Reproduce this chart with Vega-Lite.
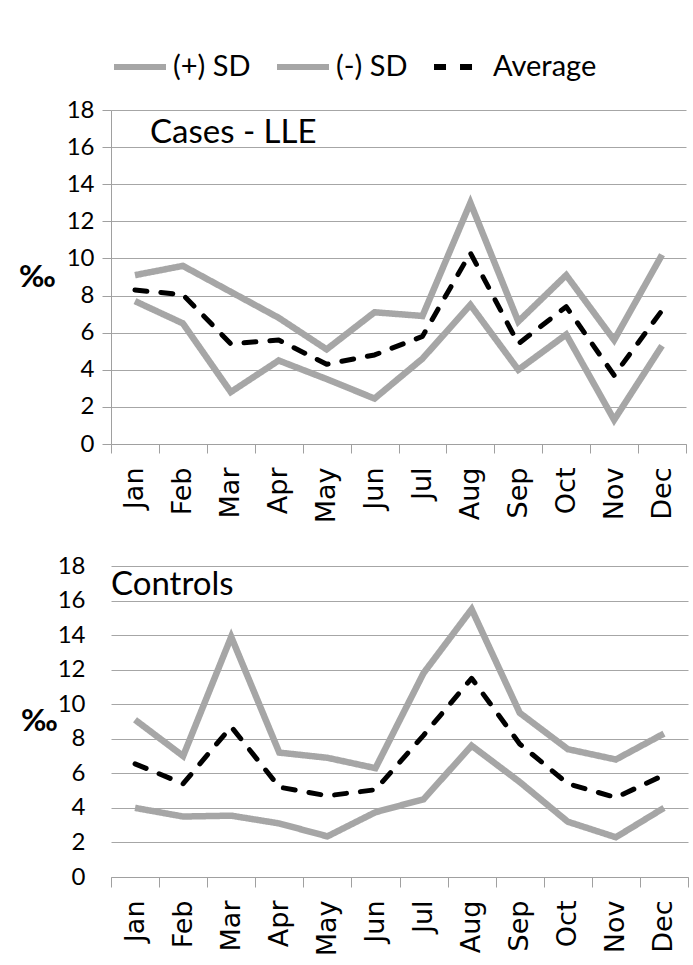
{
  "$schema": "https://vega.github.io/schema/vega-lite/v6.json",
  "padding": {"left": 18, "top": 38, "right": 0, "bottom": 0},
  "background": "white",
  "spacing": 31,
  "datasets": {
    "series": [
      {"panel": "Cases", "series": "(+) SD", "month": "Jan", "value": 9.1},
      {"panel": "Cases", "series": "(+) SD", "month": "Feb", "value": 9.6},
      {"panel": "Cases", "series": "(+) SD", "month": "Mar", "value": 8.2},
      {"panel": "Cases", "series": "(+) SD", "month": "Apr", "value": 6.8},
      {"panel": "Cases", "series": "(+) SD", "month": "May", "value": 5.1},
      {"panel": "Cases", "series": "(+) SD", "month": "Jun", "value": 7.1},
      {"panel": "Cases", "series": "(+) SD", "month": "Jul", "value": 6.9},
      {"panel": "Cases", "series": "(+) SD", "month": "Aug", "value": 13.0},
      {"panel": "Cases", "series": "(+) SD", "month": "Sep", "value": 6.6},
      {"panel": "Cases", "series": "(+) SD", "month": "Oct", "value": 9.1},
      {"panel": "Cases", "series": "(+) SD", "month": "Nov", "value": 5.6},
      {"panel": "Cases", "series": "(+) SD", "month": "Dec", "value": 10.2},
      {"panel": "Cases", "series": "(-) SD", "month": "Jan", "value": 7.7},
      {"panel": "Cases", "series": "(-) SD", "month": "Feb", "value": 6.5},
      {"panel": "Cases", "series": "(-) SD", "month": "Mar", "value": 2.8},
      {"panel": "Cases", "series": "(-) SD", "month": "Apr", "value": 4.5},
      {"panel": "Cases", "series": "(-) SD", "month": "May", "value": 3.5},
      {"panel": "Cases", "series": "(-) SD", "month": "Jun", "value": 2.45},
      {"panel": "Cases", "series": "(-) SD", "month": "Jul", "value": 4.6},
      {"panel": "Cases", "series": "(-) SD", "month": "Aug", "value": 7.5},
      {"panel": "Cases", "series": "(-) SD", "month": "Sep", "value": 4.0},
      {"panel": "Cases", "series": "(-) SD", "month": "Oct", "value": 5.9},
      {"panel": "Cases", "series": "(-) SD", "month": "Nov", "value": 1.3},
      {"panel": "Cases", "series": "(-) SD", "month": "Dec", "value": 5.3},
      {"panel": "Cases", "series": "Average", "month": "Jan", "value": 8.3},
      {"panel": "Cases", "series": "Average", "month": "Feb", "value": 8.05},
      {"panel": "Cases", "series": "Average", "month": "Mar", "value": 5.4},
      {"panel": "Cases", "series": "Average", "month": "Apr", "value": 5.6},
      {"panel": "Cases", "series": "Average", "month": "May", "value": 4.3},
      {"panel": "Cases", "series": "Average", "month": "Jun", "value": 4.8},
      {"panel": "Cases", "series": "Average", "month": "Jul", "value": 5.8},
      {"panel": "Cases", "series": "Average", "month": "Aug", "value": 10.3},
      {"panel": "Cases", "series": "Average", "month": "Sep", "value": 5.4},
      {"panel": "Cases", "series": "Average", "month": "Oct", "value": 7.4},
      {"panel": "Cases", "series": "Average", "month": "Nov", "value": 3.7},
      {"panel": "Cases", "series": "Average", "month": "Dec", "value": 7.2},
      {"panel": "Controls", "series": "(+) SD", "month": "Jan", "value": 9.1},
      {"panel": "Controls", "series": "(+) SD", "month": "Feb", "value": 7.0},
      {"panel": "Controls", "series": "(+) SD", "month": "Mar", "value": 13.9},
      {"panel": "Controls", "series": "(+) SD", "month": "Apr", "value": 7.2},
      {"panel": "Controls", "series": "(+) SD", "month": "May", "value": 6.9},
      {"panel": "Controls", "series": "(+) SD", "month": "Jun", "value": 6.3},
      {"panel": "Controls", "series": "(+) SD", "month": "Jul", "value": 11.8},
      {"panel": "Controls", "series": "(+) SD", "month": "Aug", "value": 15.5},
      {"panel": "Controls", "series": "(+) SD", "month": "Sep", "value": 9.5},
      {"panel": "Controls", "series": "(+) SD", "month": "Oct", "value": 7.4},
      {"panel": "Controls", "series": "(+) SD", "month": "Nov", "value": 6.8},
      {"panel": "Controls", "series": "(+) SD", "month": "Dec", "value": 8.3},
      {"panel": "Controls", "series": "(-) SD", "month": "Jan", "value": 4.0},
      {"panel": "Controls", "series": "(-) SD", "month": "Feb", "value": 3.5},
      {"panel": "Controls", "series": "(-) SD", "month": "Mar", "value": 3.55},
      {"panel": "Controls", "series": "(-) SD", "month": "Apr", "value": 3.1},
      {"panel": "Controls", "series": "(-) SD", "month": "May", "value": 2.35},
      {"panel": "Controls", "series": "(-) SD", "month": "Jun", "value": 3.75},
      {"panel": "Controls", "series": "(-) SD", "month": "Jul", "value": 4.5},
      {"panel": "Controls", "series": "(-) SD", "month": "Aug", "value": 7.6},
      {"panel": "Controls", "series": "(-) SD", "month": "Sep", "value": 5.5},
      {"panel": "Controls", "series": "(-) SD", "month": "Oct", "value": 3.2},
      {"panel": "Controls", "series": "(-) SD", "month": "Nov", "value": 2.3},
      {"panel": "Controls", "series": "(-) SD", "month": "Dec", "value": 4.0},
      {"panel": "Controls", "series": "Average", "month": "Jan", "value": 6.55},
      {"panel": "Controls", "series": "Average", "month": "Feb", "value": 5.4},
      {"panel": "Controls", "series": "Average", "month": "Mar", "value": 8.7},
      {"panel": "Controls", "series": "Average", "month": "Apr", "value": 5.2},
      {"panel": "Controls", "series": "Average", "month": "May", "value": 4.7},
      {"panel": "Controls", "series": "Average", "month": "Jun", "value": 5.05},
      {"panel": "Controls", "series": "Average", "month": "Jul", "value": 8.2},
      {"panel": "Controls", "series": "Average", "month": "Aug", "value": 11.5},
      {"panel": "Controls", "series": "Average", "month": "Sep", "value": 7.7},
      {"panel": "Controls", "series": "Average", "month": "Oct", "value": 5.4},
      {"panel": "Controls", "series": "Average", "month": "Nov", "value": 4.6},
      {"panel": "Controls", "series": "Average", "month": "Dec", "value": 5.9}
    ],
    "casesLabel": [{"label": "Cases - LLE"}],
    "controlsLabel": [{"label": "Controls"}]
  },
  "config": {
    "view": {"stroke": null},
    "font": "Lato",
    "axis": {
      "gridColor": "#a6a6a6",
      "gridWidth": 1,
      "domainColor": "#a0a0a0",
      "tickColor": "#a0a0a0",
      "labelColor": "#000000",
      "titleColor": "#000000"
    },
    "legend": {
      "labelFont": "Lato",
      "labelFontSize": 29,
      "labelColor": "#000000",
      "symbolType": "stroke",
      "symbolSize": 2700,
      "symbolStrokeWidth": 6,
      "columnPadding": 14,
      "labelOffset": 4,
      "padding": 0,
      "labelLimit": 0
    }
  },
  "resolve": {"legend": {"color": "independent", "strokeDash": "independent"}},
  "vconcat": [
    {
      "width": 575,
      "height": 334,
      "layer": [
        {
          "data": {"name": "series"},
          "transform": [{"filter": "datum.panel === 'Cases' && datum.series !== 'Average'"}],
          "mark": {"type": "line", "strokeWidth": 6.5, "strokeJoin": "miter", "strokeCap": "butt"},
          "encoding": {
            "x": {
              "field": "month", "type": "ordinal",
              "sort": ["Jan","Feb","Mar","Apr","May","Jun","Jul","Aug","Sep","Oct","Nov","Dec"],
              "scale": {"type": "band", "paddingInner": 0, "paddingOuter": 0},
              "bandPosition": 0.5,
              "axis": {"title": null, "tickBand": "extent", "labelAngle": -90, "labelFont": "DejaVu Sans", "labelFontSize": 27, "tickSize": 9, "labelPadding": 14, "grid": false}
            },
            "y": {
              "field": "value", "type": "quantitative",
              "scale": {"domain": [0, 18], "nice": false},
              "axis": {"values": [0,2,4,6,8,10,12,14,16,18], "grid": true, "domain": true, "ticks": true, "tickSize": 9, "labelPadding": 8, "labelFont": "Lato", "labelFontSize": 24, "title": "‰", "titleAngle": 0, "titleX": -74, "titleY": 167, "titleAlign": "center", "titleBaseline": "middle", "titleFont": "Lato", "titleFontSize": 31, "titleFontWeight": "bold"}
            },
            "color": {
              "field": "series", "type": "nominal",
              "scale": {"domain": ["(+) SD", "(-) SD", "Average"], "range": ["#a6a6a6", "#a6a6a6", "#000000"]},
              "legend": {"title": null, "orient": "none", "direction": "horizontal", "legendX": 0, "legendY": -72}
            },
            "strokeDash": {
              "field": "series", "type": "nominal",
              "scale": {"domain": ["(+) SD", "(-) SD", "Average"], "range": [[1, 0], [1, 0], [12, 14]]},
              "legend": {"title": null, "orient": "none", "direction": "horizontal", "legendX": 0, "legendY": -72}
            }
          }
        },
        {
          "data": {"name": "series"},
          "transform": [{"filter": "datum.panel === 'Cases' && datum.series === 'Average'"}],
          "mark": {"type": "line", "strokeWidth": 5, "strokeCap": "round", "strokeJoin": "round"},
          "encoding": {
            "x": {
              "field": "month", "type": "ordinal",
              "sort": ["Jan","Feb","Mar","Apr","May","Jun","Jul","Aug","Sep","Oct","Nov","Dec"],
              "scale": {"type": "band", "paddingInner": 0, "paddingOuter": 0},
              "bandPosition": 0.5,
              "axis": {"title": null, "tickBand": "extent", "labelAngle": -90, "labelFont": "DejaVu Sans", "labelFontSize": 27, "tickSize": 9, "labelPadding": 14, "grid": false}
            },
            "y": {
              "field": "value", "type": "quantitative",
              "scale": {"domain": [0, 18], "nice": false},
              "axis": {"values": [0,2,4,6,8,10,12,14,16,18], "grid": true, "domain": true, "ticks": true, "tickSize": 9, "labelPadding": 8, "labelFont": "Lato", "labelFontSize": 24, "title": "‰", "titleAngle": 0, "titleX": -74, "titleY": 167, "titleAlign": "center", "titleBaseline": "middle", "titleFont": "Lato", "titleFontSize": 31, "titleFontWeight": "bold"}
            },
            "color": {
              "field": "series", "type": "nominal",
              "scale": {"domain": ["(+) SD", "(-) SD", "Average"], "range": ["#a6a6a6", "#a6a6a6", "#000000"]},
              "legend": {"title": null, "orient": "none", "direction": "horizontal", "legendX": 0, "legendY": -72}
            },
            "strokeDash": {
              "field": "series", "type": "nominal",
              "scale": {"domain": ["(+) SD", "(-) SD", "Average"], "range": [[1, 0], [1, 0], [12, 14]]},
              "legend": {"title": null, "orient": "none", "direction": "horizontal", "legendX": 0, "legendY": -72}
            }
          }
        },
        {
          "data": {"name": "casesLabel"},
          "mark": {"type": "text", "align": "left", "baseline": "alphabetic", "dx": 39, "dy": 33, "font": "Lato", "fontSize": 33, "fill": "#000000"},
          "encoding": {
            "x": {
              "datum": "Jan", "type": "ordinal", "bandPosition": 0,
              "scale": {"type": "band", "paddingInner": 0, "paddingOuter": 0},
              "axis": {"title": null, "tickBand": "extent", "labelAngle": -90, "labelFont": "DejaVu Sans", "labelFontSize": 27, "tickSize": 9, "labelPadding": 14, "grid": false}
            },
            "y": {
              "datum": 18, "type": "quantitative",
              "scale": {"domain": [0, 18], "nice": false},
              "axis": {"values": [0,2,4,6,8,10,12,14,16,18], "grid": true, "domain": true, "ticks": true, "tickSize": 9, "labelPadding": 8, "labelFont": "Lato", "labelFontSize": 24, "title": "‰", "titleAngle": 0, "titleX": -74, "titleY": 167, "titleAlign": "center", "titleBaseline": "middle", "titleFont": "Lato", "titleFontSize": 31, "titleFontWeight": "bold"}
            },
            "text": {"field": "label", "type": "nominal"}
          }
        }
      ]
    },
    {
      "width": 577,
      "height": 311,
      "layer": [
        {
          "data": {"name": "series"},
          "transform": [{"filter": "datum.panel === 'Controls' && datum.series !== 'Average'"}],
          "mark": {"type": "line", "strokeWidth": 6.5, "strokeJoin": "miter", "strokeCap": "butt"},
          "encoding": {
            "x": {
              "field": "month", "type": "ordinal",
              "sort": ["Jan","Feb","Mar","Apr","May","Jun","Jul","Aug","Sep","Oct","Nov","Dec"],
              "scale": {"type": "band", "paddingInner": 0, "paddingOuter": 0},
              "bandPosition": 0.5,
              "axis": {"title": null, "tickBand": "extent", "labelAngle": -90, "labelFont": "DejaVu Sans", "labelFontSize": 27, "tickSize": 10, "labelPadding": 13, "grid": false}
            },
            "y": {
              "field": "value", "type": "quantitative",
              "scale": {"domain": [0, 18], "nice": false},
              "axis": {"values": [0,2,4,6,8,10,12,14,16,18], "grid": true, "domain": false, "ticks": false, "tickSize": 0, "labelPadding": 26, "labelFont": "Lato", "labelFontSize": 24, "title": "‰", "titleAngle": 0, "titleX": -72, "titleY": 155, "titleAlign": "center", "titleBaseline": "middle", "titleFont": "Lato", "titleFontSize": 31, "titleFontWeight": "bold"}
            },
            "color": {
              "field": "series", "type": "nominal",
              "scale": {"domain": ["(+) SD", "(-) SD", "Average"], "range": ["#a6a6a6", "#a6a6a6", "#000000"]},
              "legend": null
            },
            "strokeDash": {
              "field": "series", "type": "nominal",
              "scale": {"domain": ["(+) SD", "(-) SD", "Average"], "range": [[1, 0], [1, 0], [12, 14]]},
              "legend": null
            }
          }
        },
        {
          "data": {"name": "series"},
          "transform": [{"filter": "datum.panel === 'Controls' && datum.series === 'Average'"}],
          "mark": {"type": "line", "strokeWidth": 5, "strokeCap": "round", "strokeJoin": "round"},
          "encoding": {
            "x": {
              "field": "month", "type": "ordinal",
              "sort": ["Jan","Feb","Mar","Apr","May","Jun","Jul","Aug","Sep","Oct","Nov","Dec"],
              "scale": {"type": "band", "paddingInner": 0, "paddingOuter": 0},
              "bandPosition": 0.5,
              "axis": {"title": null, "tickBand": "extent", "labelAngle": -90, "labelFont": "DejaVu Sans", "labelFontSize": 27, "tickSize": 10, "labelPadding": 13, "grid": false}
            },
            "y": {
              "field": "value", "type": "quantitative",
              "scale": {"domain": [0, 18], "nice": false},
              "axis": {"values": [0,2,4,6,8,10,12,14,16,18], "grid": true, "domain": false, "ticks": false, "tickSize": 0, "labelPadding": 26, "labelFont": "Lato", "labelFontSize": 24, "title": "‰", "titleAngle": 0, "titleX": -72, "titleY": 155, "titleAlign": "center", "titleBaseline": "middle", "titleFont": "Lato", "titleFontSize": 31, "titleFontWeight": "bold"}
            },
            "color": {
              "field": "series", "type": "nominal",
              "scale": {"domain": ["(+) SD", "(-) SD", "Average"], "range": ["#a6a6a6", "#a6a6a6", "#000000"]},
              "legend": null
            },
            "strokeDash": {
              "field": "series", "type": "nominal",
              "scale": {"domain": ["(+) SD", "(-) SD", "Average"], "range": [[1, 0], [1, 0], [12, 14]]},
              "legend": null
            }
          }
        },
        {
          "data": {"name": "controlsLabel"},
          "mark": {"type": "text", "align": "left", "baseline": "alphabetic", "dx": 0, "dy": 29, "font": "Lato", "fontSize": 33, "fill": "#000000"},
          "encoding": {
            "x": {
              "datum": "Jan", "type": "ordinal", "bandPosition": 0,
              "scale": {"type": "band", "paddingInner": 0, "paddingOuter": 0},
              "axis": {"title": null, "tickBand": "extent", "labelAngle": -90, "labelFont": "DejaVu Sans", "labelFontSize": 27, "tickSize": 10, "labelPadding": 13, "grid": false}
            },
            "y": {
              "datum": 18, "type": "quantitative",
              "scale": {"domain": [0, 18], "nice": false},
              "axis": {"values": [0,2,4,6,8,10,12,14,16,18], "grid": true, "domain": false, "ticks": false, "tickSize": 0, "labelPadding": 26, "labelFont": "Lato", "labelFontSize": 24, "title": "‰", "titleAngle": 0, "titleX": -72, "titleY": 155, "titleAlign": "center", "titleBaseline": "middle", "titleFont": "Lato", "titleFontSize": 31, "titleFontWeight": "bold"}
            },
            "text": {"field": "label", "type": "nominal"}
          }
        }
      ]
    }
  ]
}
